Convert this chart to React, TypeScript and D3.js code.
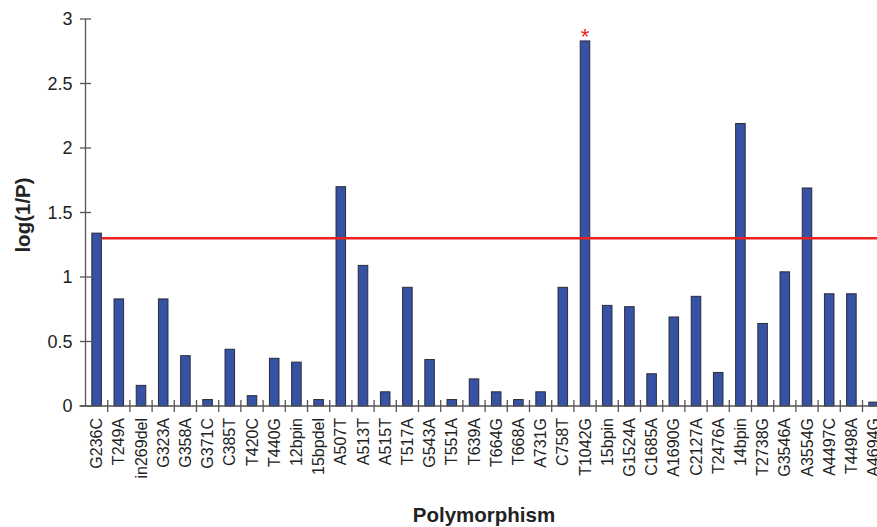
import { useEffect } from "react";
import { scaleBand, scaleLinear } from "d3";

const categories = [
  "G236C", "T249A", "in269del", "G323A", "G358A", "G371C", "C385T", "T420C",
  "T440G", "12bpin", "15bpdel", "A507T", "A513T", "A515T", "T517A", "G543A",
  "T551A", "T639A", "T664G", "T668A", "A731G", "C758T", "T1042G", "15bpin",
  "G1524A", "C1685A", "A1690G", "C2127A", "T2476A", "14bpin", "T2738G",
  "G3546A", "A3554G", "A4497C", "T4498A", "A4694G",
];

const values = [
  1.34, 0.83, 0.16, 0.83, 0.39, 0.05, 0.44, 0.08,
  0.37, 0.34, 0.05, 1.7, 1.09, 0.11, 0.92, 0.36,
  0.05, 0.21, 0.11, 0.05, 0.11, 0.92, 2.83, 0.78,
  0.77, 0.25, 0.69, 0.85, 0.26, 2.19, 0.64,
  1.04, 1.69, 0.87, 0.87, 0.03,
];

const yTicks = [0, 0.5, 1, 1.5, 2, 2.5, 3];
const threshold = 1.301; // log(1/0.05)
const starred = ["T1042G"];

const App = () => {
  useEffect(() => {
    document.body.style.margin = "0";
  }, []);

  const width = 877;
  const height = 527;
  const x0 = 85.5;
  const step = 22.2;
  const font = "'Liberation Sans', Arial, Helvetica, sans-serif";

  const xscale = scaleBand()
    .domain(categories)
    .range([x0, x0 + step * categories.length])
    .paddingInner(0.57)
    .paddingOuter(0.285);
  const yscale = scaleLinear().domain([0, 3]).range([406, 19]);

  const bw = xscale.bandwidth();
  const gap = (xscale.step() - bw) / 2;
  const axisColor = "#555";

  return (
    <svg width={width} height={height} style={{ display: "block", background: "#fff" }}>
      {/* bars */}
      {categories.map((c, i) => (
        <rect
          key={c}
          x={xscale(c)}
          y={yscale(values[i])}
          width={bw}
          height={yscale(0) - yscale(values[i])}
          fill="#3552a3"
          stroke="#2b2b3a"
          strokeWidth={1}
        />
      ))}

      {/* significance line */}
      <line
        x1={(xscale(categories[0]) as number) + bw}
        x2={width}
        y1={yscale(threshold)}
        y2={yscale(threshold)}
        stroke="#e8231c"
        strokeWidth={2.5}
      />

      {starred.map((c) => (
        <text
          key={c}
          x={(xscale(c) as number) + bw / 2}
          y={yscale(values[categories.indexOf(c)]) + 3}
          textAnchor="middle"
          fontFamily={font}
          fontSize={22}
          fill="#e8231c"
        >
          *
        </text>
      ))}

      {/* y axis */}
      <line x1={x0} x2={x0} y1={yscale(3)} y2={yscale(0)} stroke={axisColor} strokeWidth={1.3} />
      {yTicks.map((t) => (
        <g key={t}>
          <line x1={x0 - 5.5} x2={x0 + 5.5} y1={yscale(t)} y2={yscale(t)} stroke={axisColor} strokeWidth={1.3} />
          <text
            x={x0 - 13}
            y={yscale(t)}
            dy="0.35em"
            textAnchor="end"
            fontFamily={font}
            fontSize={18}
            fill="#222"
          >
            {t}
          </text>
        </g>
      ))}

      {/* x axis */}
      <line x1={x0 - 6} x2={width} y1={yscale(0)} y2={yscale(0)} stroke={axisColor} strokeWidth={1.3} />
      {categories.slice(1).map((c) => (
        <line
          key={c}
          x1={(xscale(c) as number) - gap}
          x2={(xscale(c) as number) - gap}
          y1={yscale(0) - 6}
          y2={yscale(0) + 6}
          stroke={axisColor}
          strokeWidth={1.3}
        />
      ))}
      {categories.map((c) => {
        const cx = (xscale(c) as number) + bw / 2;
        return (
          <text
            key={c}
            transform={`translate(${cx},418) rotate(-90)`}
            dy="0.35em"
            textAnchor="end"
            fontFamily={font}
            fontSize={16}
            fill="#222"
          >
            {c}
          </text>
        );
      })}

      {/* axis titles */}
      <text
        transform="translate(23,215) rotate(-90)"
        dy="0.35em"
        textAnchor="middle"
        fontFamily={font}
        fontSize={20.5}
        fontWeight="bold"
        fill="#222"
      >
        log(1/P)
      </text>
      <text
        x={484}
        y={522}
        textAnchor="middle"
        fontFamily={font}
        fontSize={20.5}
        fontWeight="bold"
        fill="#222"
      >
        Polymorphism
      </text>
    </svg>
  );
};

export default App;
